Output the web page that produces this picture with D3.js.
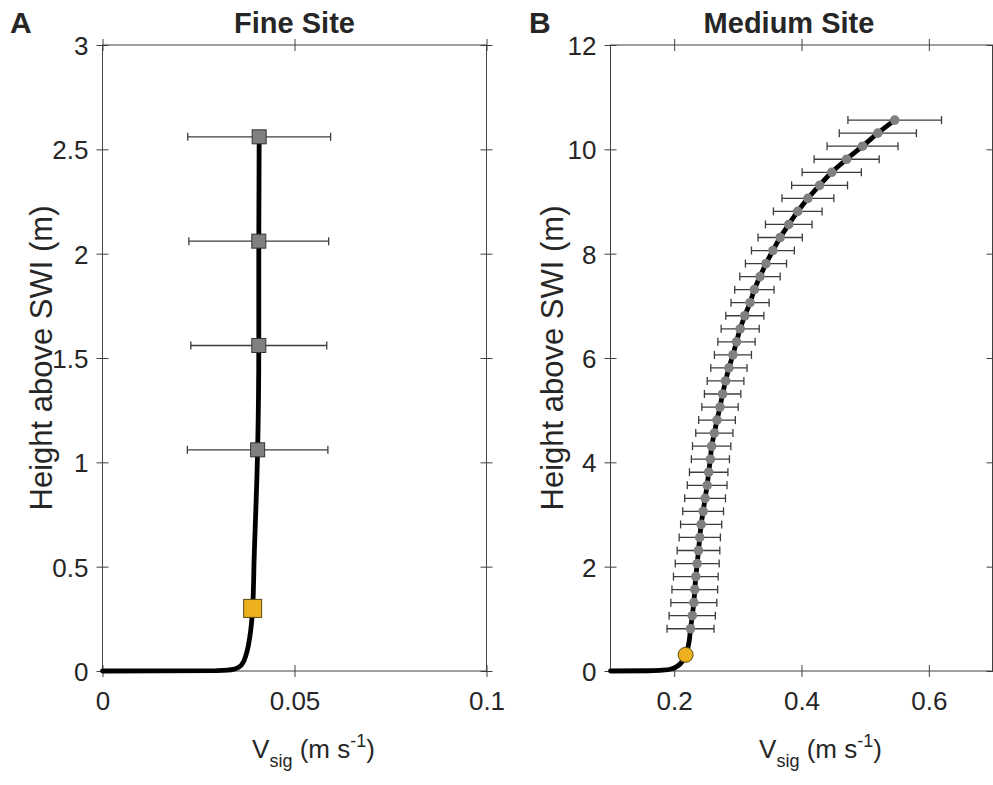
<!DOCTYPE html>
<html>
<head>
<meta charset="utf-8">
<script src="https://cdn.jsdelivr.net/npm/d3@7"></script>
<style>
  body { margin: 0; background: #fff; }
  svg text { font-family: "Liberation Sans", Arial, Helvetica, sans-serif; fill: #262626; }
</style>
</head>
<body>
<svg id="chart" width="993" height="785"></svg>
<script>
'use strict';

/*************************** Fine site data ********************************/

var fineCurveHeight = [0, 0.002, 0.008, 0.029, 0.085, 0.164, 0.30, 0.532, 1.06, 1.56, 2.06, 2.56];
var fineCurveVsig   = [0, 0.0297, 0.0340, 0.0362, 0.0375, 0.03836, 0.0391, 0.03948, 0.0404, 0.0407, 0.0407, 0.0408];

var finePointHeight = [1.06, 1.56, 2.06, 2.56];
var finePointVsig   = [0.0404, 0.0407, 0.0407, 0.0408];
var finePointErr    = [0.0183, 0.0177, 0.0182, 0.0186];

var fineSwiHeight = [0.30];
var fineSwiVsig   = [0.0391];

var fineXTicks = [0, 0.05, 0.1];
var fineXTickLabels = ["0", "0.05", "0.1"];
var fineYTicks = [0, 0.5, 1, 1.5, 2, 2.5, 3];
var fineYTickLabels = ["0", "0.5", "1", "1.5", "2", "2.5", "3"];

/************************** Medium site data *******************************/

var mediumLowHeight = [0, 0.005, 0.015, 0.04, 0.11, 0.31, 0.53];
var mediumLowVsig   = [0.1, 0.16, 0.182, 0.196, 0.207, 0.218, 0.223];

var mediumPointHeight = [0.81, 1.06, 1.31, 1.56, 1.81, 2.06, 2.31, 2.56, 2.81, 3.06,
                         3.31, 3.56, 3.81, 4.06, 4.31, 4.56, 4.81, 5.06, 5.31, 5.56,
                         5.81, 6.06, 6.31, 6.56, 6.81, 7.06, 7.31, 7.56, 7.81, 8.06,
                         8.31, 8.56, 8.81, 9.06, 9.31, 9.56, 9.81, 10.06, 10.31, 10.56];
var mediumPointVsig   = [0.2257, 0.2284, 0.2309, 0.2324, 0.2340, 0.2362, 0.2382, 0.2402, 0.2424, 0.2455,
                         0.2486, 0.2518, 0.2542, 0.2569, 0.2589, 0.2631, 0.2673, 0.2720, 0.2761, 0.2807,
                         0.2860, 0.2923, 0.2979, 0.3037, 0.3110, 0.3192, 0.3260, 0.3348, 0.3442, 0.3551,
                         0.3665, 0.3800, 0.3941, 0.4101, 0.4284, 0.4475, 0.4709, 0.4959, 0.5199, 0.5464];
var mediumPointErr    = [0.0369, 0.0363, 0.0361, 0.0359, 0.0351, 0.0345, 0.0335, 0.0324, 0.0323, 0.0320,
                         0.0320, 0.0312, 0.0302, 0.0299, 0.0301, 0.0292, 0.0288, 0.0285, 0.0286, 0.0288,
                         0.0285, 0.0291, 0.0293, 0.0299, 0.0299, 0.0299, 0.0309, 0.0317, 0.0323, 0.0337,
                         0.0348, 0.0366, 0.0382, 0.0408, 0.0439, 0.0465, 0.0511, 0.0557, 0.0606, 0.0735];

var mediumSwiHeight = [0.31];
var mediumSwiVsig   = [0.218];

var mediumXTicks = [0.2, 0.4, 0.6];
var mediumXTickLabels = ["0.2", "0.4", "0.6"];
var mediumYTicks = [0, 2, 4, 6, 8, 10, 12];
var mediumYTickLabels = ["0", "2", "4", "6", "8", "10", "12"];

/**************************** Shared style *********************************/

var svg = d3.select("#chart");
var axisColor = "#404040";
var swiColor = "#EDB120";
var pointGray = "#808080";
var tickLen = 6;
var tickFont = "26px";

function zip(a, b) {
	return a.map(function(d, i) { return [d, b[i]]; });
}

/************************** Panel generation *******************************/

function drawPanel(cfg) {

	var x = d3.scaleLinear().domain(cfg.xDomain).range([cfg.left, cfg.right]);
	var y = d3.scaleLinear().domain(cfg.yDomain).range([cfg.bottom, cfg.top]);
	var g = svg.append("g").attr("class", "panel");

	// box + ticks on all four sides, crossing the axis line
	function styleAxis(sel, horizontal) {
		sel.select(".domain").remove();
		sel.selectAll(".tick line")
			.attr("stroke", axisColor)
			.attr(horizontal ? "y1" : "x1", -tickLen)
			.attr(horizontal ? "y2" : "x2", tickLen);
	}

	var bottomAxis = g.append("g")
		.attr("transform", "translate(0," + cfg.bottom + ")")
		.call(d3.axisBottom(x).tickValues(cfg.xTicks).tickFormat(function(d, i) { return cfg.xTickLabels[i]; }));
	styleAxis(bottomAxis, true);
	bottomAxis.selectAll(".tick text")
		.attr("y", 39).attr("dy", 0)
		.style("font-size", tickFont).attr("fill", "#262626");

	var topAxis = g.append("g")
		.attr("transform", "translate(0," + cfg.top + ")")
		.call(d3.axisTop(x).tickValues(cfg.xTicks).tickFormat(""));
	styleAxis(topAxis, true);

	var leftAxis = g.append("g")
		.attr("transform", "translate(" + cfg.left + ",0)")
		.call(d3.axisLeft(y).tickValues(cfg.yTicks).tickFormat(function(d, i) { return cfg.yTickLabels[i]; }));
	styleAxis(leftAxis, false);
	leftAxis.selectAll(".tick text")
		.attr("x", -14).attr("dy", "0.36em")
		.style("font-size", tickFont).attr("fill", "#262626");

	var rightAxis = g.append("g")
		.attr("transform", "translate(" + cfg.right + ",0)")
		.call(d3.axisRight(y).tickValues(cfg.yTicks).tickFormat(""));
	styleAxis(rightAxis, false);

	g.append("rect")
		.attr("x", cfg.left).attr("y", cfg.top)
		.attr("width", cfg.right - cfg.left).attr("height", cfg.bottom - cfg.top)
		.attr("fill", "none").attr("stroke", axisColor).attr("stroke-width", 1);

	// profile line
	var line = d3.line()
		.x(function(d) { return x(d[0]); })
		.y(function(d) { return y(d[1]); })
		.curve(d3.curveMonotoneY);

	g.append("path")
		.datum(zip(cfg.curveVsig, cfg.curveHeight))
		.attr("d", line)
		.attr("fill", "none").attr("stroke", "#000").attr("stroke-width", 4.8)
		.attr("stroke-linejoin", "round").attr("stroke-linecap", "round");

	// error bars
	var pts = cfg.pointVsig.map(function(v, i) {
		return { v: v, h: cfg.pointHeight[i], e: cfg.pointErr[i] };
	});
	var bars = g.append("g").attr("class", "errorbars")
		.attr("stroke", "#3c3c3c").attr("stroke-width", 1.3);
	bars.selectAll("line.bar").data(pts).enter().append("line")
		.attr("class", "bar")
		.attr("x1", function(d) { return x(d.v - d.e); })
		.attr("x2", function(d) { return x(d.v + d.e); })
		.attr("y1", function(d) { return y(d.h); })
		.attr("y2", function(d) { return y(d.h); });
	bars.selectAll("line.capL").data(pts).enter().append("line")
		.attr("class", "capL")
		.attr("x1", function(d) { return x(d.v - d.e); })
		.attr("x2", function(d) { return x(d.v - d.e); })
		.attr("y1", function(d) { return y(d.h) - 4; })
		.attr("y2", function(d) { return y(d.h) + 4; });
	bars.selectAll("line.capR").data(pts).enter().append("line")
		.attr("class", "capR")
		.attr("x1", function(d) { return x(d.v + d.e); })
		.attr("x2", function(d) { return x(d.v + d.e); })
		.attr("y1", function(d) { return y(d.h) - 4; })
		.attr("y2", function(d) { return y(d.h) + 4; });

	// markers
	if (cfg.marker === "square") {
		g.selectAll("rect.pt").data(pts).enter().append("rect")
			.attr("class", "pt")
			.attr("x", function(d) { return x(d.v) - 7; })
			.attr("y", function(d) { return y(d.h) - 7; })
			.attr("width", 14).attr("height", 14)
			.attr("fill", pointGray).attr("stroke", "#333").attr("stroke-width", 1);
		g.selectAll("rect.swi").data(zip(cfg.swiVsig, cfg.swiHeight)).enter().append("rect")
			.attr("class", "swi")
			.attr("x", function(d) { return x(d[0]) - 9; })
			.attr("y", function(d) { return y(d[1]) - 9; })
			.attr("width", 18).attr("height", 18)
			.attr("fill", swiColor).attr("stroke", "#5a4a10").attr("stroke-width", 1);
	}
	else {
		g.selectAll("circle.pt").data(pts).enter().append("circle")
			.attr("class", "pt")
			.attr("cx", function(d) { return x(d.v); })
			.attr("cy", function(d) { return y(d.h); })
			.attr("r", 4.8)
			.attr("fill", pointGray);
		g.selectAll("circle.swi").data(zip(cfg.swiVsig, cfg.swiHeight)).enter().append("circle")
			.attr("class", "swi")
			.attr("cx", function(d) { return x(d[0]); })
			.attr("cy", function(d) { return y(d[1]); })
			.attr("r", 7.5)
			.attr("fill", swiColor).attr("stroke", "#5a4a10").attr("stroke-width", 1);
	}

	// texts
	var cx = (cfg.left + cfg.right) / 2;
	g.append("text")
		.attr("x", cfg.titleX).attr("y", 33)
		.attr("text-anchor", "middle")
		.style("font-size", "29px").style("font-weight", "bold")
		.text(cfg.title);

	g.append("text")
		.attr("x", cfg.letterX).attr("y", 33)
		.style("font-size", "30px").style("font-weight", "bold")
		.text(cfg.letter);

	var xl = g.append("text")
		.attr("x", cx + 19).attr("y", 758)
		.attr("text-anchor", "middle")
		.style("font-size", "26px");
	xl.append("tspan").text("V");
	xl.append("tspan").attr("dy", 9).style("font-size", "18px").text("sig");
	xl.append("tspan").attr("dy", -9).text(" (m s");
	xl.append("tspan").attr("dy", -11).style("font-size", "18px").text("-1");
	xl.append("tspan").attr("dy", 11).text(")");

	g.append("text")
		.attr("transform", "translate(" + cfg.yLabelX + "," + ((cfg.top + cfg.bottom) / 2) + ") rotate(-90)")
		.attr("text-anchor", "middle").attr("dy", "0.35em")
		.style("font-size", "31px")
		.text("Height above SWI (m)");
}

drawPanel({
	left: 102.5, right: 486.5, top: 45, bottom: 671,
	xDomain: [0, 0.1], yDomain: [0, 3],
	xTicks: fineXTicks, xTickLabels: fineXTickLabels,
	yTicks: fineYTicks, yTickLabels: fineYTickLabels,
	curveHeight: fineCurveHeight, curveVsig: fineCurveVsig,
	pointHeight: finePointHeight, pointVsig: finePointVsig, pointErr: finePointErr,
	swiHeight: fineSwiHeight, swiVsig: fineSwiVsig,
	marker: "square",
	title: "Fine Site", titleX: 294.5, letter: "A", letterX: 10, yLabelX: 41
});

drawPanel({
	left: 610.5, right: 992.5, top: 45, bottom: 671,
	xDomain: [0.1, 0.7], yDomain: [0, 12],
	xTicks: mediumXTicks, xTickLabels: mediumXTickLabels,
	yTicks: mediumYTicks, yTickLabels: mediumYTickLabels,
	curveHeight: mediumLowHeight.concat(mediumPointHeight), curveVsig: mediumLowVsig.concat(mediumPointVsig),
	pointHeight: mediumPointHeight, pointVsig: mediumPointVsig, pointErr: mediumPointErr,
	swiHeight: mediumSwiHeight, swiVsig: mediumSwiVsig,
	marker: "circle",
	title: "Medium Site", titleX: 789, letter: "B", letterX: 529, yLabelX: 552
});
</script>
</body>
</html>
